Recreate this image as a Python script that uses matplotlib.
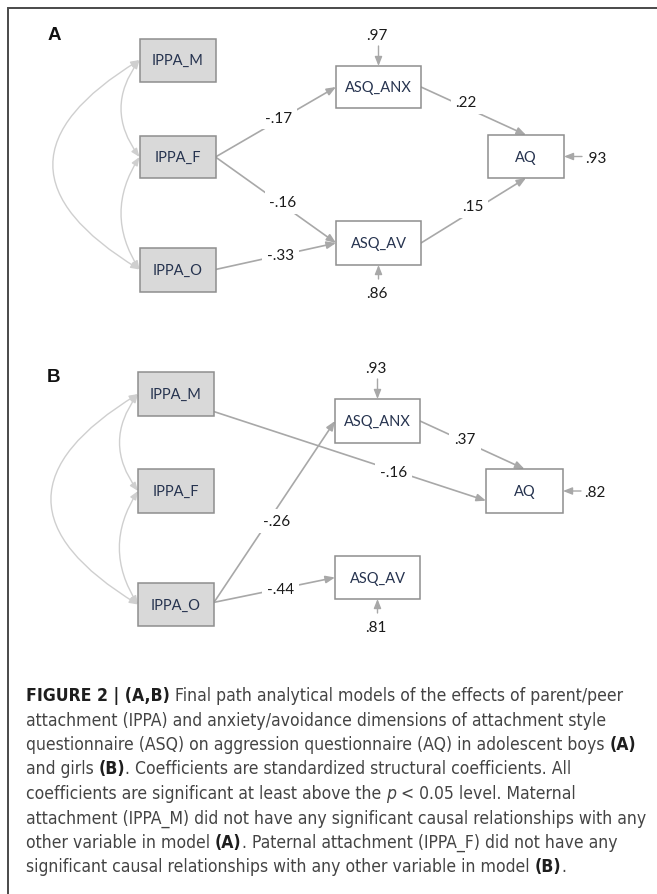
import matplotlib
matplotlib.use("Agg")
import matplotlib.pyplot as plt
from matplotlib.patches import Rectangle
from matplotlib import font_manager

# ---- data -------------------------------------------------------------
panels = ["A", "B"]
exo_nodes = ["IPPA_M", "IPPA_F", "IPPA_O"]
endo_nodes = ["ASQ_ANX", "ASQ_AV", "AQ"]

paths_a = [("IPPA_F", "ASQ_ANX", "-.17"), ("IPPA_F", "ASQ_AV", "-.16"),
           ("IPPA_O", "ASQ_AV", "-.33"), ("ASQ_ANX", "AQ", ".22"),
           ("ASQ_AV", "AQ", ".15")]
paths_b = [("IPPA_M", "AQ", "-.16"), ("IPPA_O", "ASQ_ANX", "-.26"),
           ("IPPA_O", "ASQ_AV", "-.44"), ("ASQ_ANX", "AQ", ".37")]
resid_a = {"ASQ_ANX": ".97", "ASQ_AV": ".86", "AQ": ".93"}
resid_b = {"ASQ_ANX": ".93", "ASQ_AV": ".81", "AQ": ".82"}

caption_lines = [
    [("FIGURE 2 | (A,B)", "bold"), (" Final path analytical models of the effects of parent/peer", "normal")],
    [("attachment (IPPA) and anxiety/avoidance dimensions of attachment style", "normal")],
    [("questionnaire (ASQ) on aggression questionnaire (AQ) in adolescent boys ", "normal"), ("(A)", "bold")],
    [("and girls ", "normal"), ("(B)", "bold"), (". Coefficients are standardized structural coefficients. All", "normal")],
    [("coefficients are significant at least above the ", "normal"), ("p", "italic"), (" < 0.05 level. Maternal", "normal")],
    [("attachment (IPPA_M) did not have any significant causal relationships with any", "normal")],
    [("other variable in model ", "normal"), ("(A)", "bold"), (". Paternal attachment (IPPA_F) did not have any", "normal")],
    [("significant causal relationships with any other variable in model ", "normal"), ("(B)", "bold"), (".", "normal")],
]

# ---- layout (pixel coords, y down) -------------------------------------
W, H = 657, 895
box_a = {"IPPA_M": (139.5, 39.5, 76, 43), "IPPA_F": (139.5, 137, 76, 42),
         "IPPA_O": (139.5, 248.5, 76, 44), "ASQ_ANX": (336, 67, 85, 42),
         "ASQ_AV": (336, 222, 85, 44), "AQ": (488, 136, 76, 43)}
box_b = {"IPPA_M": (138, 373, 76, 44), "IPPA_F": (138, 470, 76, 44),
         "IPPA_O": (138, 584, 76, 43), "ASQ_ANX": (335, 400, 85, 44),
         "ASQ_AV": (335, 557, 85, 43), "AQ": (486, 470, 77, 44)}
letter_pos = {"A": (54, 35), "B": (53, 377)}
# label position as fraction along the path, plus a small pixel nudge
lab_a = [(0.52, 0, -3), (0.56, 0, -3), (0.54, 0, 0), (0.44, -1, -6), (0.49, 0, -5)]
lab_b = [(0.66, 0, 2), (0.45, 8, 0), (0.55, 0, 0), (0.43, 0, -3)]
# where edges attach (fraction of width, fraction of height from top)
anchor_a = [((1, .5), (0, .5)), ((1, .5), (0, .5)), ((1, .5), (0, .5)),
            ((1, .5), (.5, 0)), ((1, .5), (.5, 1))]
anchor_b = [((1, .9), (0, .72)), ((1, .45), (0, .5)), ((1, .45), (0, .5)),
            ((1, .5), (.5, 0))]

line_col = "#a8a8a8"
arc_col = "#cfcfcf"
edge_col = "#8e8e8e"
node_txt = "#26334f"

fig = plt.figure(figsize=(W / 100, H / 100), dpi=100)
ax = fig.add_axes([0, 0, 1, 1])
ax.set_xlim(0, W)
ax.set_ylim(H, 0)
ax.axis("off")

# outer frame: top and left only
ax.plot([8, 8, W], [H, 9, 9], color="#4a4a4a", lw=1.4, solid_joinstyle="miter")

node_font = "Lato"
arrow = "-|>,head_length=0.55,head_width=0.22"


def anchor(box, f):
    x, y, w, h = box
    return x + f[0] * w, y + f[1] * h


def draw_panel(letter, boxes, paths, resid, labs, anchors):
    lx, ly = letter_pos[letter]
    ax.text(lx, ly, letter, fontsize=13.5, fontweight="bold", ha="center", va="center",
            family="Liberation Sans", color="#111111")
    for name, (x, y, w, h) in boxes.items():
        fc = "#d9d9d9" if name in exo_nodes else "white"
        ax.add_patch(Rectangle((x, y), w, h, fc=fc, ec=edge_col, lw=1.1, zorder=3))
        ax.text(x + w / 2, y + h / 2, name, fontsize=10.5, family=node_font, color=node_txt,
                ha="center", va="center", zorder=4)

    # correlations among exogenous variables (curved double arrows)
    left = {n: anchor(boxes[n], (0, .5)) for n in exo_nodes}
    for a, b, rad in [("IPPA_M", "IPPA_F", 0.37), ("IPPA_F", "IPPA_O", 0.32),
                      ("IPPA_M", "IPPA_O", 0.82)]:
        ax.annotate("", xy=left[b], xytext=left[a],
                    arrowprops=dict(arrowstyle="<|-|>,head_length=0.5,head_width=0.2",
                                    color=arc_col, lw=1.0, shrinkA=0, shrinkB=0,
                                    connectionstyle=f"arc3,rad={rad}"), zorder=2)

    for (src, dst, val), (t, dx, dy), (fa, fb) in zip(paths, labs, anchors):
        p0 = anchor(boxes[src], fa)
        p1 = anchor(boxes[dst], fb)
        ax.annotate("", xy=p1, xytext=p0,
                    arrowprops=dict(arrowstyle=arrow, color=line_col, lw=1.2,
                                    shrinkA=0, shrinkB=0), zorder=2)
        tx = p0[0] + t * (p1[0] - p0[0]) + dx
        ty = p0[1] + t * (p1[1] - p0[1]) + dy
        ax.text(tx, ty, val, fontsize=11, family=node_font, color="#1a1a1a",
                ha="center", va="center", zorder=5,
                bbox=dict(fc="white", ec="none", pad=3.5))

    # residual (error) terms
    for name, val in resid.items():
        x, y, w, h = boxes[name]
        if name == "ASQ_ANX":
            ax.annotate("", xy=(x + w / 2, y), xytext=(x + w / 2, y - 20),
                        arrowprops=dict(arrowstyle=arrow, color=line_col, lw=1.0,
                                        shrinkA=0, shrinkB=0), zorder=2)
            ax.text(x + w / 2 - 2, y - 31, val, fontsize=11, family=node_font,
                    color="#1a1a1a", ha="center", va="center")
        elif name == "ASQ_AV":
            ax.annotate("", xy=(x + w / 2, y + h), xytext=(x + w / 2, y + h + 14),
                        arrowprops=dict(arrowstyle=arrow, color=line_col, lw=1.0,
                                        shrinkA=0, shrinkB=0), zorder=2)
            ax.text(x + w / 2 - 2, y + h + 28, val, fontsize=11, family=node_font,
                    color="#1a1a1a", ha="center", va="center")
        else:
            ax.annotate("", xy=(x + w, y + h / 2), xytext=(x + w + 18, y + h / 2),
                        arrowprops=dict(arrowstyle=arrow, color=line_col, lw=1.0,
                                        shrinkA=0, shrinkB=0), zorder=2)
            ax.text(x + w + 32, y + h / 2 + 1, val, fontsize=11, family=node_font,
                    color="#1a1a1a", ha="center", va="center")


draw_panel("A", box_a, paths_a, resid_a, lab_a, anchor_a)
draw_panel("B", box_b, paths_b, resid_b, lab_b, anchor_b)

# ---- caption -----------------------------------------------------------
names = {f.name for f in font_manager.fontManager.ttflist}
if "Liberation Sans Narrow" in names:
    cap_fam, cap_stretch = "Liberation Sans Narrow", "normal"
else:
    cap_fam, cap_stretch = "DejaVu Sans", "condensed"

renderer = fig.canvas.get_renderer()


def run_width(line, size):
    total = 0
    for txt, sty in line:
        t = ax.text(0, 0, txt, fontsize=size, family=cap_fam, fontstretch=cap_stretch,
                    fontweight="bold" if sty == "bold" else "normal",
                    fontstyle="italic" if sty == "italic" else "normal")
        total += t.get_window_extent(renderer).width
        t.remove()
    return total


# fit the longest line to its width in the reference (26 -> 647 px)
cap_size = 10 * 621 / run_width(caption_lines[5], 10)

x0, y0, step = 26, 696, 24.5
for i, line in enumerate(caption_lines):
    x = x0
    for txt, sty in line:
        t = ax.text(x, y0 + i * step, txt, fontsize=cap_size, family=cap_fam,
                    fontstretch=cap_stretch,
                    fontweight="bold" if sty == "bold" else "normal",
                    fontstyle="italic" if sty == "italic" else "normal",
                    color="#1e1e1e" if sty == "bold" else "#444444",
                    ha="left", va="center")
        x += t.get_window_extent(renderer).width

fig.savefig("out.png", dpi=100)
